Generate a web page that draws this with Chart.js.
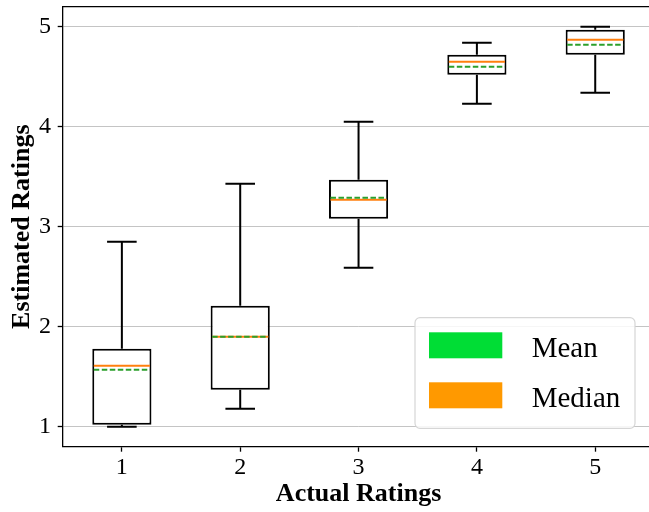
<!DOCTYPE html>
<html>
<head>
<meta charset="utf-8">
<script src="https://cdn.jsdelivr.net/npm/chart.js@4.4.0/dist/chart.umd.min.js"></script>
<style>
  html, body { margin: 0; padding: 0; background: #fff; width: 649px; height: 512px; overflow: hidden; }
  canvas { display: block; }
</style>
</head>
<body>
<canvas id="chart" width="656" height="512"></canvas>
<script>
// box plot statistics per actual rating
const categories = ['1', '2', '3', '4', '5'];
const whiskerLow = [1.00, 1.18, 2.59, 4.23, 4.34];
const q1 = [1.02, 1.37, 3.08, 4.52, 4.72];
const medians = [1.61, 1.90, 3.27, 4.65, 4.87];
const means = [1.57, 1.90, 3.29, 4.60, 4.82];
const q3 = [1.78, 2.21, 3.47, 4.72, 4.97];
const whiskerHigh = [2.85, 3.43, 4.05, 4.84, 5.00];
const yTicks = [1, 2, 3, 4, 5];

const legendLabels = ['Mean', 'Median'];
const legendColors = ['#00dd35', '#ff9900'];

const SERIF = "'Liberation Serif', 'Times New Roman', serif";

// whiskers, caps, median and mean lines, top spine and legend
const boxExtras = {
  id: 'boxExtras',
  afterDatasetsDraw(chart) {
    const { ctx, scales: { y } } = chart;
    const meta = chart.getDatasetMeta(0);
    ctx.save();
    meta.data.forEach((bar, i) => {
      const cx = bar.x;
      const half = bar.width / 2;
      const cap = bar.width / 4;
      const yLow = y.getPixelForValue(whiskerLow[i]);
      const yHigh = y.getPixelForValue(whiskerHigh[i]);

      ctx.strokeStyle = '#000';
      ctx.lineWidth = 2;
      ctx.setLineDash([]);
      ctx.beginPath();
      ctx.moveTo(cx, y.getPixelForValue(q1[i]));
      ctx.lineTo(cx, yLow);
      ctx.moveTo(cx, y.getPixelForValue(q3[i]));
      ctx.lineTo(cx, yHigh);
      ctx.moveTo(cx - cap, yLow);
      ctx.lineTo(cx + cap, yLow);
      ctx.moveTo(cx - cap, yHigh);
      ctx.lineTo(cx + cap, yHigh);
      ctx.stroke();

      // median
      const ym = y.getPixelForValue(medians[i]);
      ctx.strokeStyle = '#ff7f0e';
      ctx.lineWidth = 2;
      ctx.beginPath();
      ctx.moveTo(cx - half + 1.5, ym);
      ctx.lineTo(cx + half - 1.5, ym);
      ctx.stroke();

      // mean (dashed)
      const ya = y.getPixelForValue(means[i]);
      ctx.strokeStyle = '#2ca02c';
      ctx.setLineDash([5.5, 2.5]);
      ctx.beginPath();
      ctx.moveTo(cx - half + 1.5, ya);
      ctx.lineTo(cx + half - 1.5, ya);
      ctx.stroke();
    });
    ctx.restore();
  },
  afterDraw(chart) {
    const { ctx, chartArea: ca } = chart;
    ctx.save();
    // top spine
    ctx.strokeStyle = '#000';
    ctx.lineWidth = 1.3;
    ctx.beginPath();
    ctx.moveTo(ca.left, ca.top);
    ctx.lineTo(ca.right, ca.top);
    ctx.stroke();

    // legend box
    const lx = ca.right - 239.4, ly = ca.bottom - 129, lw = 220, lh = 110.6;
    ctx.fillStyle = 'rgba(255,255,255,0.85)';
    ctx.strokeStyle = '#d6d6d6';
    ctx.lineWidth = 1.2;
    ctx.beginPath();
    ctx.roundRect(lx, ly, lw, lh, 5);
    ctx.fill();
    ctx.stroke();

    ctx.font = '29px ' + SERIF;
    ctx.textBaseline = 'middle';
    ctx.textAlign = 'left';
    legendLabels.forEach((label, i) => {
      const py = ly + 14.6 + i * 50;
      ctx.fillStyle = legendColors[i];
      ctx.fillRect(lx + 14, py, 73.3, 26);
      ctx.fillStyle = '#000';
      ctx.fillText(label, lx + 116.7, py + 17);
    });
    ctx.restore();
  }
};

new Chart(document.getElementById('chart'), {
  type: 'bar',
  data: {
    labels: categories,
    datasets: [{
      data: categories.map((c, i) => [q1[i], q3[i]]),
      backgroundColor: '#ffffff',
      borderColor: '#000000',
      borderWidth: 2,
      borderSkipped: false,
      barPercentage: 0.5,
      categoryPercentage: 1.0
    }]
  },
  options: {
    responsive: false,
    animation: false,
    events: [],
    layout: { padding: { left: 0, top: 6.7, right: 1.6, bottom: 0 } },
    plugins: {
      legend: { display: false },
      tooltip: { enabled: false }
    },
    scales: {
      x: {
        grid: {
          display: true,
          drawOnChartArea: false,
          offset: false,
          tickLength: 5,
          tickColor: '#000',
          tickWidth: 1.3
        },
        border: { color: '#000', width: 1.3 },
        ticks: {
          color: '#000',
          padding: 4,
          font: { family: SERIF, size: 24, lineHeight: 1 }
        },
        title: {
          display: true,
          text: 'Actual Ratings',
          color: '#000',
          padding: { top: 0, bottom: 5 },
          font: { family: SERIF, size: 26, weight: 'bold', lineHeight: 1 }
        },
        afterFit(scale) {
          scale.height = 65.3;
          scale.paddingLeft = 0;
          scale.paddingRight = 0;
        }
      },
      y: {
        min: 0.8,
        max: 5.2,
        afterBuildTicks(scale) {
          scale.ticks = yTicks.map(v => ({ value: v }));
        },
        grid: {
          color: '#c4c4c4',
          lineWidth: 1,
          tickLength: 5,
          tickColor: '#000',
          tickWidth: 1.3
        },
        border: { color: '#000', width: 1.3 },
        ticks: {
          color: '#000',
          padding: 6.7,
          font: { family: SERIF, size: 24, lineHeight: 1 }
        },
        title: {
          display: true,
          text: 'Estimated Ratings',
          color: '#000',
          padding: { top: 9.5, bottom: 0 },
          font: { family: SERIF, size: 26, weight: 'bold', lineHeight: 1 }
        },
        afterFit(scale) {
          scale.width = 62.7;
          scale.paddingTop = 0;
          scale.paddingBottom = 0;
        }
      }
    }
  },
  plugins: [boxExtras]
});
</script>
</body>
</html>
